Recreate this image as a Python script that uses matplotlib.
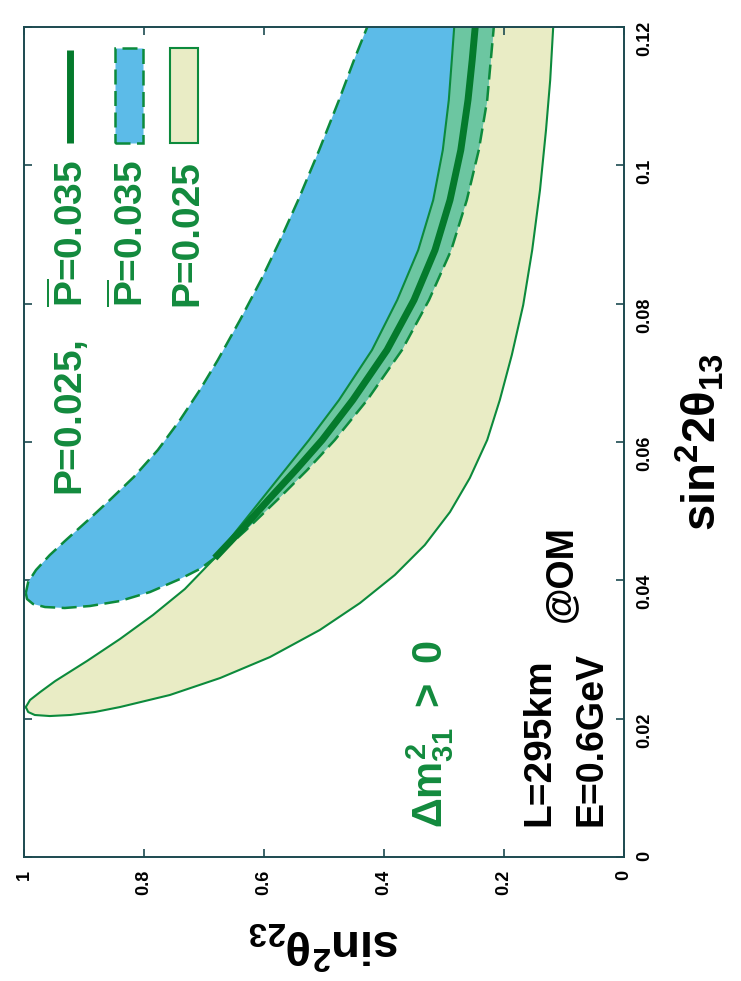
import numpy as np
import matplotlib
matplotlib.use("Agg")
import matplotlib.pyplot as plt
from matplotlib.patches import Polygon, Rectangle
from matplotlib.lines import Line2D

plt.rcParams.update({
    "font.family": ["Liberation Sans", "DejaVu Sans"],
    "font.weight": "bold",
    "mathtext.fontset": "custom",
    "mathtext.rm": "Liberation Sans:bold",
    "mathtext.it": "Liberation Sans:bold",
    "mathtext.bf": "Liberation Sans:bold",
    "mathtext.sf": "Liberation Sans:bold",
})

# ---- allowed regions in the (sin^2 2theta13, sin^2 theta23) plane ----
# P = 0.025 band (neutrino): lower and upper sin^2 theta23 edges, from the tip upward
s13_beige_lo = [0.02168, 0.02096, 0.02053, 0.02038, 0.02053, 0.02096, 0.02168, 0.02342,
                0.02588, 0.02891, 0.03282, 0.03672, 0.04077, 0.04511, 0.04988, 0.05479,
                0.06029, 0.06607, 0.07257, 0.07980, 0.08775, 0.09643, 0.10510, 0.11233,
                0.11999, 0.12173]
s23_beige_lo = [0.997, 0.993, 0.982, 0.957, 0.923, 0.882, 0.840, 0.757,
                0.673, 0.590, 0.507, 0.440, 0.382, 0.332, 0.290, 0.257,
                0.228, 0.207, 0.187, 0.168, 0.153, 0.140, 0.130, 0.123,
                0.118, 0.117]
s13_beige_hi = [0.02168, 0.02270, 0.02385, 0.02544, 0.02834, 0.03152, 0.03499, 0.03874,
                0.04323, 0.04727, 0.05161, 0.05595, 0.06029, 0.06607, 0.07330, 0.08053,
                0.08775, 0.09498, 0.10221, 0.10944, 0.11522, 0.11999, 0.12173]
s23_beige_hi = [0.997, 0.990, 0.973, 0.948, 0.895, 0.840, 0.785, 0.732,
                0.682, 0.645, 0.605, 0.565, 0.525, 0.475, 0.420, 0.378,
                0.343, 0.318, 0.302, 0.292, 0.287, 0.283, 0.282]

# Pbar = 0.035 band (anti-neutrino)
s13_blue_lo = [0.03817, 0.03730, 0.03658, 0.03614, 0.03600, 0.03629, 0.03701, 0.03831,
               0.04019, 0.04164, 0.04323, 0.04727, 0.05161, 0.05595, 0.06029, 0.06607,
               0.07330, 0.08053, 0.08775, 0.09498, 0.10221, 0.10944, 0.11522, 0.11999,
               0.12173]
s23_blue_lo = [0.997, 0.995, 0.985, 0.965, 0.932, 0.890, 0.840, 0.790,
               0.740, 0.707, 0.682, 0.630, 0.578, 0.528, 0.482, 0.428,
               0.370, 0.325, 0.288, 0.262, 0.242, 0.228, 0.222, 0.217,
               0.215]
s13_blue_hi = [0.03817, 0.03976, 0.04149, 0.04366, 0.04583, 0.04872, 0.05161, 0.05494,
               0.05884, 0.06318, 0.06751, 0.07185, 0.07763, 0.08342, 0.08920, 0.09498,
               0.10221, 0.10944, 0.11522, 0.11999, 0.12173]
s23_blue_hi = [0.997, 0.993, 0.980, 0.957, 0.930, 0.893, 0.857, 0.817,
               0.777, 0.740, 0.707, 0.677, 0.640, 0.605, 0.573, 0.543,
               0.508, 0.475, 0.450, 0.428, 0.422]

# P = 0.025 and Pbar = 0.035 simultaneously
s13_both = [0.04323, 0.04727, 0.05161, 0.05595, 0.06029, 0.06607, 0.07330, 0.08053,
            0.08775, 0.09498, 0.10221, 0.10944, 0.11522, 0.11999, 0.12173]
s23_both = [0.682, 0.638, 0.593, 0.547, 0.503, 0.452, 0.395, 0.350,
            0.315, 0.290, 0.272, 0.260, 0.253, 0.248, 0.247]

s23_ticks = [0, 0.2, 0.4, 0.6, 0.8, 1.0]
s23_ticklabels = ["0", "0.2", "0.4", "0.6", "0.8", "1"]
s13_ticks = [0, 0.02, 0.04, 0.06, 0.08, 0.10, 0.12]
s13_ticklabels = ["0", "0.02", "0.04", "0.06", "0.08", "0.1", "0.12"]

BEIGE = "#e9ecc5"
BLUE = "#5cbbe8"
TEAL = "#6cc6a1"
GREEN = "#0c8a3c"
DARK = "#047a2c"
TXT_GREEN = "#128a3d"
FRAME = "#1c4a50"

W, H = 741, 981
fig = plt.figure(figsize=(W / 100, H / 100), dpi=100)
fig.patch.set_facecolor("white")
# page is turned a quarter: sin^2 theta23 runs right-to-left, sin^2 2theta13 upward
ax = fig.add_axes([24 / W, 1 - 857 / H, 600 / W, 830 / H])
ax.set_xlim(1, 0)
ax.set_ylim(0, 0.12)


def arr(a):
    return np.asarray(a, dtype=float)


def closed(lo23, lo13, hi23, hi13):
    return (np.r_[arr(lo23), arr(hi23)[::-1]], np.r_[arr(lo13), arr(hi13)[::-1]])


# filled regions
bx, by = closed(s23_beige_lo, s13_beige_lo, s23_beige_hi, s13_beige_hi)
ax.add_patch(Polygon(np.column_stack([bx, by]), closed=True, fc=BEIGE, ec="none", zorder=1))

ux, uy = closed(s23_blue_lo, s13_blue_lo, s23_blue_hi, s13_blue_hi)
ax.add_patch(Polygon(np.column_stack([ux, uy]), closed=True, fc=BLUE, ec="none", zorder=2))

# overlap of the two bands above their crossing point
j0 = s13_both[0] - 1e-9
mb = arr(s13_beige_hi) >= j0
ml = arr(s13_blue_lo) >= j0
ox, oy = closed(arr(s23_beige_hi)[mb], arr(s13_beige_hi)[mb],
                arr(s23_blue_lo)[ml], arr(s13_blue_lo)[ml])
ax.add_patch(Polygon(np.column_stack([ox, oy]), closed=True, fc=TEAL, ec="none", zorder=3))

# outlines
ax.plot(bx, by, color=GREEN, lw=1.5, zorder=4)
ax.plot(ux, uy, color=GREEN, lw=1.8, dashes=(6, 2.6), zorder=5)
ax.plot(s23_both, s13_both, color=DARK, lw=5, solid_capstyle="butt", zorder=6)

# frame and ticks
for sp in ax.spines.values():
    sp.set_color(FRAME)
    sp.set_linewidth(1.4)
    sp.set_zorder(10)
ax.set_xticks(s23_ticks)
ax.set_xticklabels(s23_ticklabels)
ax.set_yticks(s13_ticks)
ax.set_yticklabels(s13_ticklabels)
ax.yaxis.tick_right()
ax.tick_params(direction="in", length=6, width=1.2, color=FRAME,
               top=True, bottom=True, left=True, right=True,
               labelleft=False, labelright=True, labelbottom=True, labeltop=False,
               labelsize=13, pad=9)
ax.tick_params(axis="x", labelrotation=90)
ax.tick_params(axis="y", labelrotation=90)

ax.set_xlabel(r"$\mathrm{sin}^2\theta_{23}$", fontsize=34, rotation=180)
ax.xaxis.set_label_coords(0.5, (857 - 945) / 830)
ax.xaxis.label.set_va("center")
ax.xaxis.label.set_ha("center")

ax.yaxis.set_label_position("right")
ax.set_ylabel(r"$\mathrm{sin}^2 2\theta_{13}$", fontsize=34, rotation=90)
ax.yaxis.set_label_coords((700 - 24) / 600, 0.5)
ax.yaxis.label.set_va("center")
ax.yaxis.label.set_ha("center")


def X(px):
    return (px - 24) / 600


def Y(py):
    return (857 - py) / 830


# legend drawn in axes fraction
ax.add_line(Line2D([X(70), X(70)], [Y(50), Y(143)], transform=ax.transAxes,
                   color=DARK, lw=5, solid_capstyle="butt", zorder=7))
ax.add_patch(Rectangle((X(115), Y(143)), X(143) - X(115), Y(48) - Y(143),
                       transform=ax.transAxes, fc=BLUE, ec=GREEN, lw=1.8,
                       ls=(0, (6, 2.6)), zorder=7))
ax.add_patch(Rectangle((X(170), Y(143)), X(198) - X(170), Y(48) - Y(143),
                       transform=ax.transAxes, fc=BEIGE, ec=GREEN, lw=1.5, zorder=7))

legend_texts = [
    (83, r"P=0.025,   $\overline{\mathrm{P}}$=0.035"),
    (143, r"$\overline{\mathrm{P}}$=0.035"),
    (197, r"P=0.025"),
]
for lx, s in legend_texts:
    ax.text(X(lx), Y(160), s, transform=ax.transAxes, rotation=90,
            rotation_mode="anchor", ha="right", va="baseline",
            fontsize=28, color=TXT_GREEN, zorder=8)

ax.text(X(442), Y(828), r"$\Delta m^2_{31}\ >\ 0$", transform=ax.transAxes, rotation=90,
        rotation_mode="anchor", ha="left", va="baseline", fontsize=30,
        color=TXT_GREEN, zorder=8)
ax.text(X(549), Y(826), "L=295km", transform=ax.transAxes, rotation=90,
        rotation_mode="anchor", ha="left", va="baseline", fontsize=28,
        color="black", zorder=8)
ax.text(X(601), Y(826), "E=0.6GeV", transform=ax.transAxes, rotation=90,
        rotation_mode="anchor", ha="left", va="baseline", fontsize=27,
        color="black", zorder=8)
ax.text(X(571), Y(622), "@OM", transform=ax.transAxes, rotation=90,
        rotation_mode="anchor", ha="left", va="baseline", fontsize=27,
        color="black", zorder=8)

fig.savefig("out.png", dpi=100, facecolor="white")
